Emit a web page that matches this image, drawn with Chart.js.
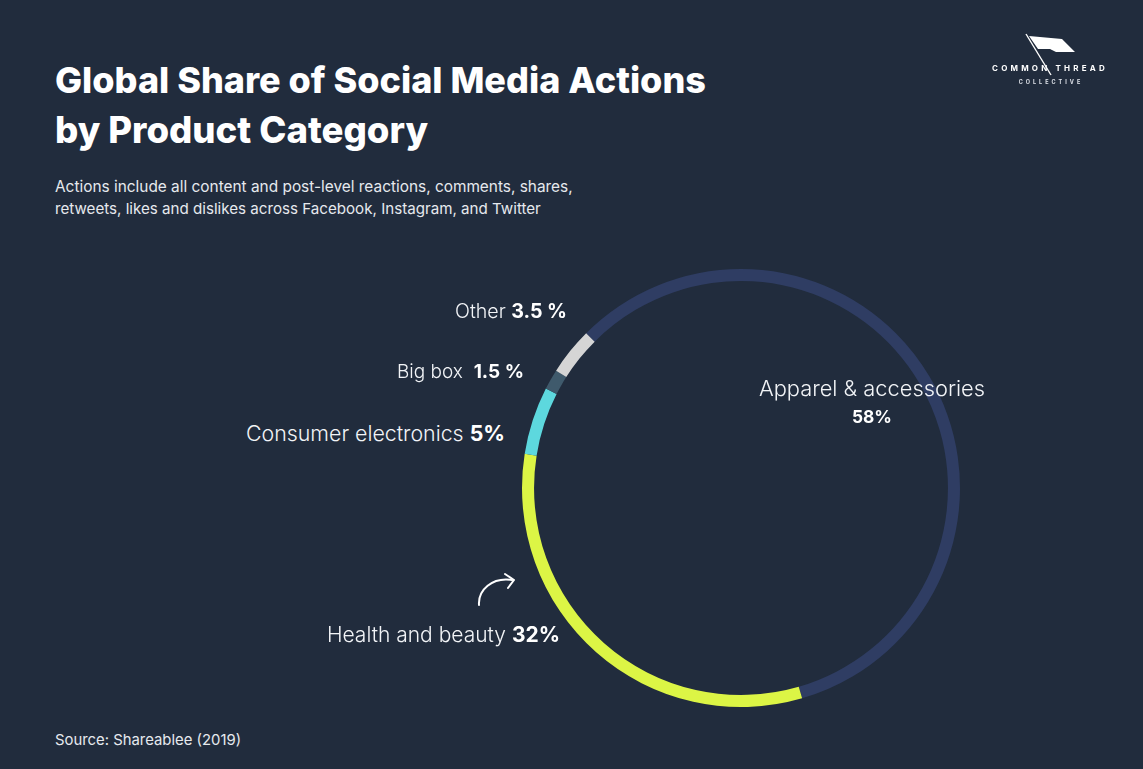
<!DOCTYPE html>
<html>
<head>
<meta charset="utf-8">
<script src="https://cdn.jsdelivr.net/npm/chart.js@4.4.0/dist/chart.umd.min.js"></script>
<style>
  html, body { margin:0; padding:0; background:#212c3d; }
  #stage { position:relative; width:1143px; height:769px; background:#212c3d; overflow:hidden;
           font-family: Inter, "Open Sans", sans-serif; color:#ffffff; }
  .t { position:absolute; white-space:nowrap; }
  .title { font-weight:800; font-size:36px; line-height:44px; left:55px; }
  .sub { font-weight:400; font-size:15px; line-height:20px; left:55px; color:#e6e9ee; }
  .lab { font-weight:300; font-size:21px; line-height:28px; color:#f2f4f7; }
  .lab b { font-weight:700; color:#ffffff; }
  #chartBox { position:absolute; left:511px; top:258px; width:460px; height:460px; }
</style>
</head>
<body>
<div id="stage">
  <div class="t title" data-fit="651" data-cy="80" data-lx="55" id="title1"></div>
  <div class="t title" data-fit="373" data-cy="130" data-lx="55" id="title2"></div>
  <div class="t sub" data-fit="518" data-cy="187" data-lx="55" id="sub1"></div>
  <div class="t sub" data-fit="486" data-cy="209" data-lx="55" id="sub2"></div>
  <div class="t sub" data-fit="186" data-cy="740" data-lx="55" id="source"></div>

  <div id="chartBox"><canvas id="c" width="460" height="460"></canvas></div>
  <div id="labels"></div>

  <svg style="position:absolute;left:0;top:0" width="1143" height="769">
    <path d="M479,605 C478,590 492,577 512,580" fill="none" stroke="#ffffff" stroke-width="2" stroke-linecap="round"/>
    <path d="M505,574 L514,580 L508,588" fill="none" stroke="#ffffff" stroke-width="2" stroke-linecap="round" stroke-linejoin="round"/>
    <!-- logo flag -->
    <line x1="1026" y1="34" x2="1051" y2="75" stroke="#ffffff" stroke-width="1.4"/>
    <path d="M1029,36 L1062,39 L1075,52 L1056,52 L1050,49 L1038,49 Z" fill="#ffffff"/>
    <text x="1050" y="71" text-anchor="middle" font-family="Inter, sans-serif" font-weight="700" font-size="8" letter-spacing="3.2" fill="#ffffff">COMMON THREAD</text>
    <text x="1051" y="84" text-anchor="middle" font-family="Inter, sans-serif" font-weight="700" font-size="5.5" letter-spacing="3" fill="#dfe3ea">COLLECTIVE</text>
  </svg>
</div>
<script>
const titleLines = ["Global Share of Social Media Actions", "by Product Category"];
const subtitleLines = ["Actions include all content and post-level reactions, comments, shares,",
                       "retweets, likes and dislikes across Facebook, Instagram, and Twitter"];
const sourceText = "Source: Shareablee (2019)";

const categories = ["Apparel & accessories", "Health and beauty", "Consumer electronics", "Big box", "Other"];
const shares = [58, 32, 5, 1.5, 3.5];
const shareLabels = ["58%", "32%", "5%", "1.5 %", "3.5 %"];
const colors = ["#2f3d63", "#dcf545", "#5dd8de", "#3f5a6c", "#d5d5d5"];

document.getElementById('title1').textContent = titleLines[0];
document.getElementById('title2').textContent = titleLines[1];
document.getElementById('sub1').textContent = subtitleLines[0];
document.getElementById('sub2').textContent = subtitleLines[1];
document.getElementById('source').textContent = sourceText;

// label placement (layout only)
const labelLayout = [
  {mode:'center', x:872, y:388, w:226, two:true},
  {mode:'right', x:560, y:635, w:233},
  {mode:'right', x:505, y:433, w:259},
  {mode:'right', x:524, y:372, w:127, gap:true},
  {mode:'right', x:567, y:311, w:112}
];
const labelsDiv = document.getElementById('labels');
categories.forEach((cat, i) => {
  const L = labelLayout[i];
  if (L.two) {
    const a = document.createElement('div');
    a.className = 't lab'; a.textContent = cat; a.dataset.fit = L.w;
    a.dataset.cx = L.x; a.dataset.cy = L.y;
    labelsDiv.appendChild(a);
    const b = document.createElement('div');
    b.className = 't lab'; b.innerHTML = '<b></b>'; b.querySelector('b').textContent = shareLabels[i];
    b.dataset.fit = 40; b.dataset.cx = L.x; b.dataset.cy = L.y + 29;
    labelsDiv.appendChild(b);
  } else {
    const d = document.createElement('div');
    d.className = 't lab';
    d.appendChild(document.createTextNode(cat + (L.gap ? '\u00a0 ' : ' ')));
    const b = document.createElement('b'); b.textContent = shareLabels[i];
    d.appendChild(b);
    d.dataset.fit = L.w; d.dataset.rx = L.x; d.dataset.cy = L.y;
    labelsDiv.appendChild(d);
  }
});

function fitAll() {
  document.querySelectorAll('[data-fit]').forEach(el => {
    const target = parseFloat(el.dataset.fit);
    let fs = parseFloat(getComputedStyle(el).fontSize);
    for (let k = 0; k < 3; k++) {
      const w = el.getBoundingClientRect().width;
      fs = fs * target / w;
      el.style.fontSize = fs + 'px';
    }
    const h = parseFloat(getComputedStyle(el).lineHeight);
    if (el.dataset.cy) el.style.top = (parseFloat(el.dataset.cy) - h / 2) + 'px';
    if (el.dataset.lx) el.style.left = el.dataset.lx + 'px';
    if (el.dataset.rx) el.style.left = (parseFloat(el.dataset.rx) - el.getBoundingClientRect().width) + 'px';
    if (el.dataset.cx) el.style.left = (parseFloat(el.dataset.cx) - el.getBoundingClientRect().width / 2) + 'px';
  });
}
fitAll();

new Chart(document.getElementById('c'), {
  type: 'doughnut',
  data: {
    labels: categories,
    datasets: [{ data: shares, backgroundColor: colors, borderWidth: 0 }]
  },
  options: {
    responsive: false,
    animation: false,
    rotation: -45,
    cutout: '94.5%',
    layout: { padding: 11 },
    plugins: { legend: { display: false }, tooltip: { enabled: false } }
  }
});
</script>
</body>
</html>
